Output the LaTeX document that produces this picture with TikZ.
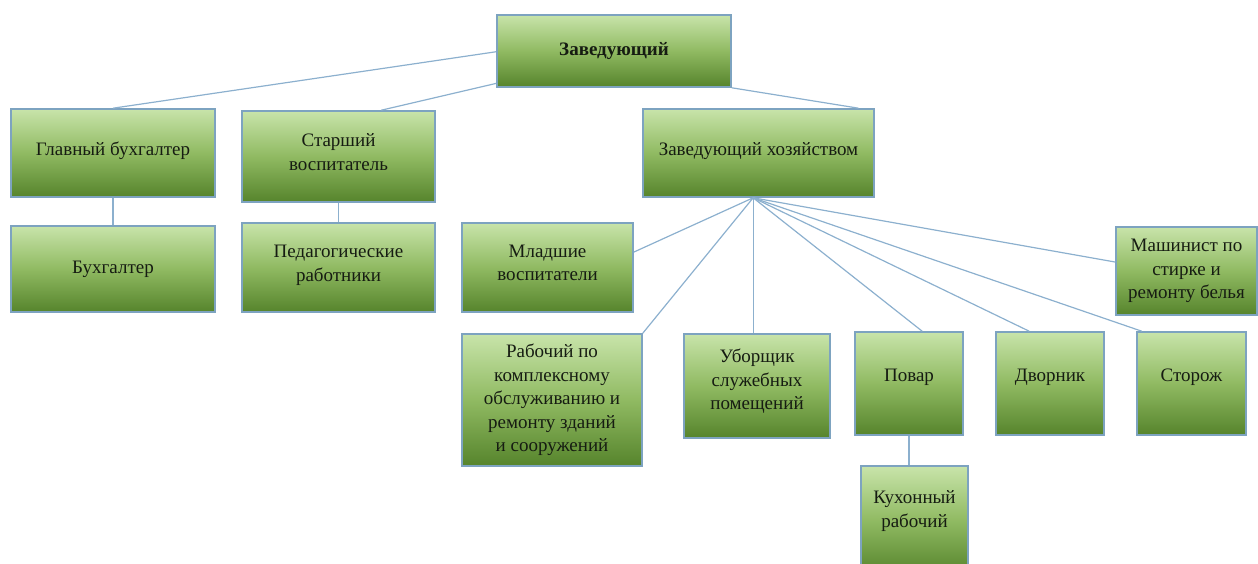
\documentclass[tikz,border=0pt]{standalone}
\usepackage{fontspec}
\setmainfont{Liberation Serif}
\usetikzlibrary{calc}
\definecolor{gtop}{RGB}{200,228,170}
\definecolor{gbot}{RGB}{86,132,44}
\definecolor{gmid}{RGB}{144,186,98}
\definecolor{bord}{RGB}{125,163,192}
\definecolor{conn}{RGB}{140,176,206}
\definecolor{txt}{RGB}{22,28,18}
\tikzset{
  orgbox/.style={draw=bord, line width=1.6pt, top color=gtop, bottom color=gbot, middle color=gmid,
    inner sep=2pt, align=center, text=txt, font=\fontsize{19}{23.5}\selectfont},
  link/.style={draw=conn, line width=1.2pt}
}
\newcommand\obox[7][]{%
  \node[orgbox,#1, minimum width={(#4-#2)*1pt}, minimum height={(#5-#3)*1pt}]
    (#6) at ({(#2+#4)/2},{563-(#3+#5)/2}) {#7};}
\newcommand\lift[1]{\rule[-#1]{0pt}{1pt}}
\begin{document}
\begin{tikzpicture}[x=1pt,y=1pt]
\useasboundingbox (0,0) rectangle (1258,563);
\obox[font=\fontsize{19}{23.5}\selectfont\bfseries]{497}{15}{731}{87}{zav}{Заведующий}
\obox{11}{109}{215}{197}{glav}{Главный бухгалтер\lift{9pt}}
\obox{242}{111}{435}{202}{star}{Старший\\воспитатель\lift{9pt}}
\obox{11}{226}{215}{312}{buh}{Бухгалтер}
\obox{242}{223}{435}{312}{ped}{Педагогические\\работники\lift{8pt}}
\obox{643}{109}{874}{197}{zavx}{Заведующий хозяйством\lift{9pt}}
\obox{462}{223}{633}{312}{mlad}{Младшие\\воспитатели\lift{9pt}}
\obox{462}{334}{642}{466}{rab}{Рабочий по\\комплексному\\обслуживанию и\\ремонту зданий\\и сооружений}
\obox{684}{334}{830}{438}{ubor}{Уборщик\\служебных\\помещений\lift{13pt}}
\obox{855}{332}{963}{435}{povar}{Повар\lift{16pt}}
\obox{996}{332}{1104}{435}{dvor}{Дворник\lift{16pt}}
\obox{1137}{332}{1246}{435}{stor}{Сторож\lift{16pt}}
\obox{1116}{227}{1257}{315}{mash}{Машинист по\\стирке и\\ремонту белья}
\obox{861}{466}{968}{575}{kuh}{Кухонный\\рабочий\lift{23pt}}
% connector points
\coordinate (zl1) at ($(zav.north west)!0.51!(zav.south west)$);
\coordinate (zl2) at ($(zav.north west)!0.94!(zav.south west)$);
\coordinate (sTop) at ($(star.north west)!0.72!(star.north east)$);
\coordinate (zxTop) at ($(zavx.north west)!0.93!(zavx.north east)$);
\coordinate (fan) at ($(zavx.south west)!0.477!(zavx.south east)$);
\coordinate (mladE) at ($(mlad.north east)!0.33!(mlad.south east)$);
\coordinate (povT) at ($(povar.north west)!0.62!(povar.north east)$);
\coordinate (dvorT) at ($(dvor.north west)!0.31!(dvor.north east)$);
\coordinate (storT) at ($(stor.north west)!0.05!(stor.north east)$);
\coordinate (mashW) at ($(mash.north west)!0.40!(mash.south west)$);
% connectors
\draw[link] (zl1) -- (glav.north);
\draw[link] (zl2) -- (sTop);
\draw[link] (zav.south east) -- (zxTop);
\draw[link] (glav.south) -- (buh.north);
\draw[link] (star.south) -- (ped.north);
\draw[link] (fan) -- (mladE);
\draw[link] (fan) -- (rab.north east);
\draw[link] (fan) -- (fan |- ubor.north);
\draw[link] (fan) -- (povT);
\draw[link] (fan) -- (dvorT);
\draw[link] (fan) -- (storT);
\draw[link] (fan) -- (mashW);
\draw[link] (povar.south) -- (povar.south |- kuh.north);
\end{tikzpicture}
\end{document}
